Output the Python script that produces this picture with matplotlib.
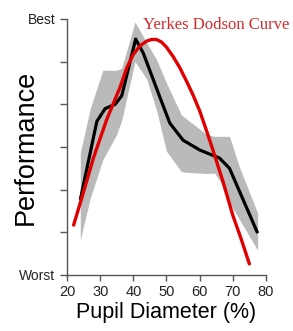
import numpy as np
import matplotlib
matplotlib.use('Agg')
from matplotlib import pyplot as plt

# pupil diameter (%) vs performance (0 = worst, 6 = best)
pupil_x = [24, 29, 31.5, 34.5, 36.5, 40.7, 43, 48, 51, 55, 60, 66, 69, 77.5]
perf = [1.76, 3.6, 3.9, 4.0, 4.2, 5.53, 5.2, 4.17, 3.56, 3.16, 2.93, 2.74, 2.5, 0.98]

band_x = [24, 27, 30.8, 35, 36.5, 40.5, 44, 47, 50, 54.5, 57, 62, 64.5, 66, 69, 72, 77.5]
band_hi = [2.86, 3.9, 4.8, 4.8, 4.85, 5.93, 5.45, 5.05, 4.5, 3.75, 3.6, 3.3, 3.25, 3.25, 3.25, 2.53, 1.45]
band_lo = [0.82, 1.8, 2.7, 3.3, 3.63, 5.0, 4.6, 3.86, 2.9, 2.42, 2.4, 2.38, 2.39, 2.22, 1.7, 1.3, 0.58]

# Yerkes-Dodson curve
yd_x = [22, 25, 28, 32, 36, 38, 40, 42, 44, 45.5, 47, 48.5, 50, 52, 54, 56, 58, 60, 62, 64, 67, 70, 72.5, 75]
yd_y = [1.17, 1.95, 2.75, 3.65, 4.4, 4.85, 5.17, 5.37, 5.48, 5.52, 5.52, 5.46, 5.34, 5.12, 4.86, 4.55, 4.22, 3.85, 3.4, 2.93, 2.2, 1.4, 0.85, 0.26]

xticks = [20, 30, 40, 50, 60, 70, 80]
yticks = [0, 1, 2, 3, 4, 5, 6]
ylabels = ['Worst', '', '', '', '', '', 'Best']

fig = plt.figure(figsize=(2.93, 3.31), dpi=100)
ax = fig.add_axes([0.2287, 0.1692, 0.679, 0.7734])

ax.fill_between(band_x, band_lo, band_hi, color='#bababa', lw=0)
ax.plot(pupil_x, perf, color='black', lw=2.3, solid_capstyle='butt')
ax.plot(yd_x, yd_y, color='#e00000', lw=2.4, solid_capstyle='round', solid_joinstyle='round')

ax.text(42.8, 5.86, 'Yerkes Dodson Curve', color='#d42a2a', family='Liberation Serif',
        fontsize=12, ha='left', va='center', clip_on=False)

ax.set_xlim(20, 80)
ax.set_ylim(0, 6)
ax.set_xticks(xticks)
ax.set_yticks(yticks)
ax.set_yticklabels(ylabels)
for s in ['top', 'right']:
    ax.spines[s].set_visible(False)
for s in ['left', 'bottom']:
    ax.spines[s].set_color('#555555')
    ax.spines[s].set_linewidth(1)
ax.tick_params(colors='#555555', labelcolor='#222222', labelsize=10.5, length=5, width=1,
               labelfontfamily='Liberation Sans')
ax.tick_params(axis='y', labelsize=10)
ax.tick_params(axis='x', length=4)
ax.set_xlabel('Pupil Diameter (%)', fontsize=15.5, family='Liberation Sans', labelpad=2)
ax.set_ylabel('Performance', fontsize=19.5, family='Liberation Sans')
ax.yaxis.set_label_coords(-0.14, 0.5)

fig.savefig('out.png', dpi=100)
